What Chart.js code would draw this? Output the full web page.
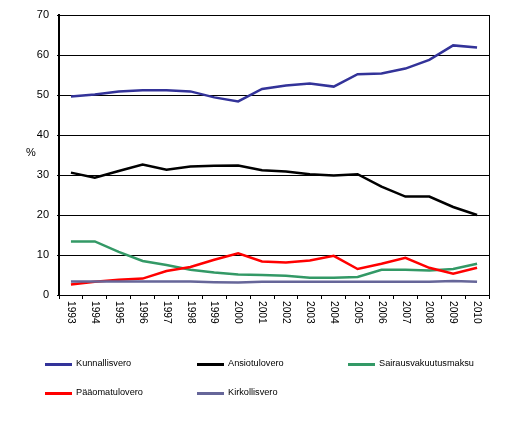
<!DOCTYPE html>
<html>
<head>
<meta charset="utf-8">
<script src="https://cdn.jsdelivr.net/npm/chart.js@4.4.1/dist/chart.umd.min.js"></script>
<style>
  html, body { margin: 0; padding: 0; background: #fff; }
  #wrap { position: relative; width: 511px; height: 425px; }
  .leg { position: absolute; font: 9.2px "Liberation Sans", Arial, sans-serif; color: #000; white-space: nowrap; }
  .leg span.line { position: absolute; left: 0; top: -1px; width: 27px; height: 2.5px; }
  .leg span.txt { position: absolute; left: 31px; top: -6px; }
</style>
</head>
<body>
<div id="wrap">
  <canvas id="verot" width="511" height="425"></canvas>
</div>
<script>
const vuodet = ['1993', '1994', '1995', '1996', '1997', '1998', '1999', '2000', '2001',
  '2002', '2003', '2004', '2005', '2006', '2007', '2008', '2009', '2010'];

const kunnallisvero = [49.6, 50.1, 50.9, 51.2, 51.2, 50.9, 49.4, 48.4, 51.5, 52.4, 52.9, 52.1, 55.2, 55.4, 56.6, 58.8, 62.4, 61.9];
const ansiotulovero = [30.6, 29.3, 31.0, 32.6, 31.3, 32.1, 32.3, 32.4, 31.2, 30.9, 30.2, 29.9, 30.2, 27.1, 24.6, 24.6, 22.0, 20.0];
const sairausvakuutusmaksu = [13.4, 13.4, 10.8, 8.5, 7.5, 6.3, 5.6, 5.1, 5.0, 4.8, 4.3, 4.3, 4.5, 6.3, 6.3, 6.1, 6.5, 7.8];
const paaomatulovero = [2.6, 3.3, 3.8, 4.1, 6.0, 7.0, 8.8, 10.4, 8.4, 8.1, 8.6, 9.8, 6.5, 7.8, 9.3, 6.8, 5.3, 6.8];
const kirkollisvero = [3.4, 3.4, 3.4, 3.4, 3.4, 3.4, 3.2, 3.1, 3.3, 3.3, 3.3, 3.3, 3.3, 3.3, 3.3, 3.3, 3.5, 3.3];

const yTicks = [0, 10, 20, 30, 40, 50, 60, 70];

const sarjat = [
  { nimi: 'Kunnallisvero', data: kunnallisvero, vari: '#333399' },
  { nimi: 'Ansiotulovero', data: ansiotulovero, vari: '#000000' },
  { nimi: 'Sairausvakuutusmaksu', data: sairausvakuutusmaksu, vari: '#339966' },
  { nimi: 'Pääomatulovero', data: paaomatulovero, vari: '#ff0000' },
  { nimi: 'Kirkollisvero', data: kirkollisvero, vari: '#666699' }
];

const fontti = '"Liberation Sans", Arial, sans-serif';

// vuosiluvut pystyyn (myötäpäivään) ja "%"-teksti
const omatTekstit = {
  id: 'omatTekstit',
  afterDraw(chart) {
    const ctx = chart.ctx;
    const x = chart.scales.x;
    const y = chart.scales.y;
    ctx.save();
    ctx.fillStyle = '#000';
    ctx.font = '10.2px ' + fontti;
    ctx.textAlign = 'left';
    ctx.textBaseline = 'middle';
    vuodet.forEach((v, i) => {
      ctx.save();
      ctx.translate(x.getPixelForValue(i), chart.chartArea.bottom + 6);
      ctx.rotate(Math.PI / 2);
      ctx.fillText(v, 0, 0);
      ctx.restore();
    });
    ctx.font = '11px ' + fontti;
    ctx.textAlign = 'center';
    ctx.fillText('%', chart.chartArea.left - 28, y.getPixelForValue(35.5));
    ctx.restore();
  }
};

new Chart(document.getElementById('verot'), {
  type: 'line',
  data: {
    labels: vuodet,
    datasets: sarjat.map((s, i) => ({
      label: s.nimi,
      data: s.data,
      borderColor: s.vari,
      backgroundColor: s.vari,
      borderWidth: 2.5,
      pointRadius: 0,
      tension: 0,
      order: sarjat.length - i   // viimeinen sarja päällimmäiseksi
    }))
  },
  options: {
    responsive: false,
    animation: false,
    layout: { padding: { left: 0, top: 15, right: 22, bottom: 0 } },
    plugins: {
      legend: { display: false },
      tooltip: { enabled: false }
    },
    scales: {
      x: {
        offset: true,
        grid: { offset: true, drawOnChartArea: false, drawTicks: true, tickLength: 4, color: '#000' },
        border: { color: '#000', width: 1 },
        ticks: { display: false },
        afterFit(s) { s.height = 130; }
      },
      y: {
        min: 0,
        max: 70,
        afterBuildTicks(s) { s.ticks = yTicks.map(v => ({ value: v })); },
        grid: { color: '#000', lineWidth: 1, tickLength: 2 },
        border: { color: '#000', width: 2 },
        ticks: { color: '#000', font: { family: fontti, size: 11 }, padding: 8 },
        afterFit(s) { s.width = 59; }
      },
      y2: {
        position: 'right',
        min: 0,
        max: 70,
        grid: { drawOnChartArea: false, drawTicks: false },
        border: { color: '#000', width: 1 },
        ticks: { display: false },
        afterFit(s) { s.width = 0; }
      }
    }
  },
  plugins: [omatTekstit]
});

// selite kuvan alle kolmeen sarakkeeseen
const sarakkeet = [45, 197, 348];
const rivit = [364, 393];
const wrap = document.getElementById('wrap');
sarjat.forEach((s, i) => {
  const d = document.createElement('div');
  d.className = 'leg';
  d.style.left = sarakkeet[i % 3] + 'px';
  d.style.top = rivit[Math.floor(i / 3)] + 'px';
  d.innerHTML = '<span class="line" style="background:' + s.vari + '"></span><span class="txt">' + s.nimi + '</span>';
  wrap.appendChild(d);
});
</script>
</body>
</html>
